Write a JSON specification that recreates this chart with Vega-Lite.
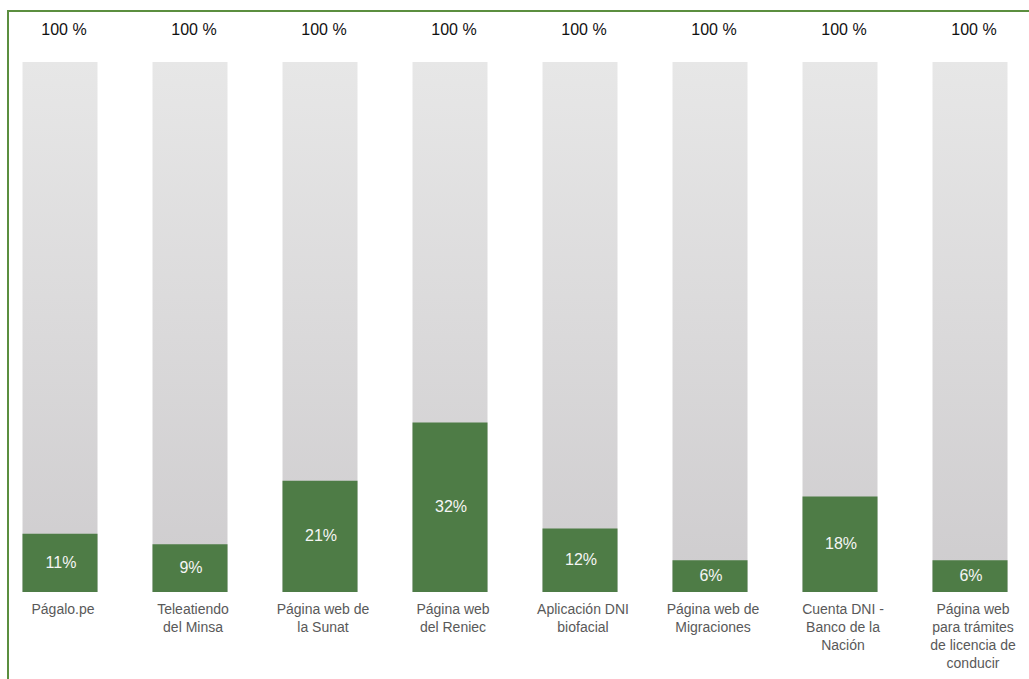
{
  "$schema": "https://vega.github.io/schema/vega-lite/v6.json",
  "autosize": "none",
  "width": 1024,
  "height": 672,
  "padding": {"left": 8, "top": 11, "right": 0, "bottom": 0},
  "background": "white",
  "config": {
    "view": {"stroke": "#5B8E3F", "strokeWidth": 2},
    "font": "Liberation Sans"
  },
  "data": {
    "values": [
      {"canal": "Págalo.pe", "value": 0.11},
      {"canal": "Teleatiendo|del Minsa", "value": 0.09},
      {"canal": "Página web de|la Sunat", "value": 0.21},
      {"canal": "Página web|del Reniec", "value": 0.32},
      {"canal": "Aplicación DNI|biofacial", "value": 0.12},
      {"canal": "Página web de|Migraciones", "value": 0.06},
      {"canal": "Cuenta DNI -|Banco de la|Nación", "value": 0.18},
      {"canal": "Página web|para trámites|de licencia de|conducir", "value": 0.06}
    ]
  },
  "encoding": {
    "x": {
      "field": "canal",
      "type": "nominal",
      "sort": null,
      "axis": null,
      "scale": {"paddingInner": 0.4231, "paddingOuter": 0.15, "align": 0.372}
    }
  },
  "layer": [
    {
      "mark": {
        "type": "bar",
        "color": {
          "gradient": "linear",
          "x1": 0, "y1": 0, "x2": 0, "y2": 1,
          "stops": [
            {"offset": 0, "color": "#E7E7E7"},
            {"offset": 1, "color": "#CECCCE"}
          ]
        }
      },
      "encoding": {
        "y": {"datum": 1, "type": "quantitative", "axis": null, "scale": {"domain": [-0.1717, 1.0962], "nice": false, "zero": false}},
        "y2": {"datum": 0}
      }
    },
    {
      "mark": {"type": "bar", "color": "#4E7C46"},
      "encoding": {
        "y": {"field": "value", "type": "quantitative", "axis": null, "scale": {"domain": [-0.1717, 1.0962], "nice": false, "zero": false}},
        "y2": {"datum": 0}
      }
    },
    {
      "mark": {"type": "text", "text": "100 %", "fontSize": 16, "color": "#111111", "baseline": "middle", "dy": -32, "dx": 4},
      "encoding": {
        "y": {"datum": 1, "type": "quantitative", "axis": null, "scale": {"domain": [-0.1717, 1.0962], "nice": false, "zero": false}}
      }
    },
    {
      "mark": {"type": "text", "fontSize": 14, "color": "#595959", "baseline": "top", "dy": 11, "dx": 3, "lineBreak": "|", "lineHeight": 18},
      "encoding": {
        "y": {"datum": 0, "type": "quantitative", "axis": null, "scale": {"domain": [-0.1717, 1.0962], "nice": false, "zero": false}},
        "text": {"field": "canal"}
      }
    },
    {
      "mark": {"type": "text", "fontSize": 16, "color": "#F5F5F5", "baseline": "middle", "dx": 1},
      "encoding": {
        "y": {"field": "value", "type": "quantitative", "axis": null, "scale": {"domain": [-0.3434, 2.1924], "nice": false, "zero": false}},
        "text": {"field": "value", "format": ".0%"}
      }
    }
  ],
  "resolve": {"scale": {"y": "independent"}}
}
